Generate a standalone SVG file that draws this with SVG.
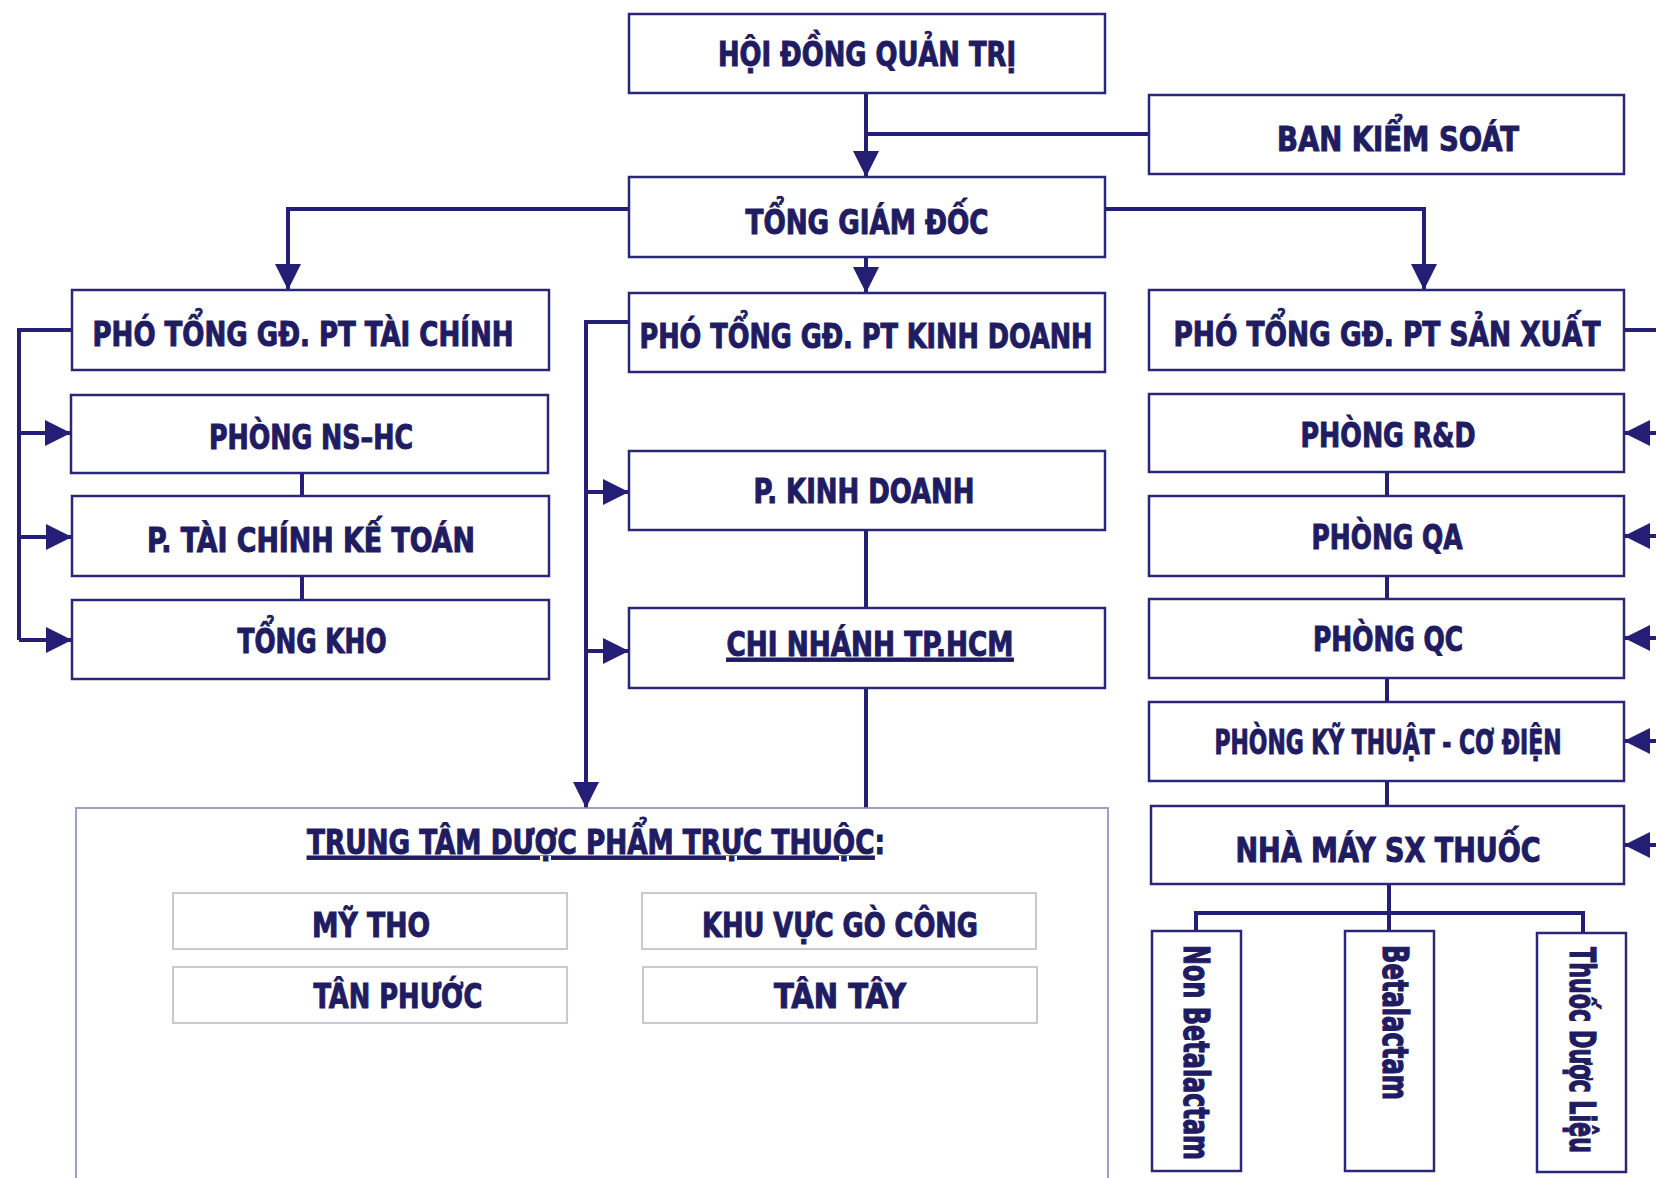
<svg xmlns="http://www.w3.org/2000/svg" width="1656" height="1178" viewBox="0 0 1656 1178">
<defs>
<marker id="arr" viewBox="0 0 10 10" refX="10" refY="5" markerUnits="userSpaceOnUse" markerWidth="32" markerHeight="26" orient="auto">
<path d="M0,0 L10,5 L0,10 z" fill="#241f74"/>
</marker>
<style>
.box{fill:#ffffff;stroke:#2a2678;stroke-width:2.5}
.sub{fill:#ffffff;stroke:#c9c9d3;stroke-width:2}
.big{fill:#ffffff;stroke:#8a88b8;stroke-width:1.6}
.t{font-family:"Liberation Sans Narrow","DejaVu Sans Condensed","Liberation Sans",sans-serif;font-weight:bold;fill:#1f1c62;stroke:#1f1c62;stroke-width:1;font-size:34px;text-anchor:middle}
.v{font-family:"Liberation Sans Narrow","DejaVu Sans Condensed","Liberation Sans",sans-serif;font-weight:bold;fill:#1f1c62;stroke:#1f1c62;stroke-width:1.2;font-size:36px}
.c{fill:none;stroke:#241f74;stroke-width:4}
.ca{fill:none;stroke:#241f74;stroke-width:4;marker-end:url(#arr)}
</style>
</defs>
<rect width="1656" height="1178" fill="#ffffff"/>

<g id="connectors">
<path class="ca" d="M866,93 V177"/>
<path class="c" d="M866,134 H1149"/>
<path class="ca" d="M629,209 H288 V290"/>
<path class="ca" d="M1105,209 H1424 V290"/>
<path class="ca" d="M866,257 V293"/>
<path class="c" d="M72,330 H19 V640"/>
<path class="ca" d="M19,433 H71"/>
<path class="ca" d="M19,537 H72"/>
<path class="ca" d="M19,640 H72"/>
<path class="c" d="M302,473 V496"/>
<path class="c" d="M302,576 V600"/>
<path class="ca" d="M629,322 H586 V808"/>
<path class="ca" d="M586,492 H629"/>
<path class="ca" d="M586,651 H629"/>
<path class="c" d="M866,530 V608"/>
<path class="c" d="M866,688 V808"/>
<path class="c" d="M1624,330 H1666 V845"/>
<path class="ca" d="M1666,433 H1624"/>
<path class="ca" d="M1666,536 H1624"/>
<path class="ca" d="M1666,638 H1624"/>
<path class="ca" d="M1666,741 H1624"/>
<path class="ca" d="M1666,845 H1624"/>
<path class="c" d="M1387,472 V496"/>
<path class="c" d="M1387,576 V599"/>
<path class="c" d="M1387,678 V702"/>
<path class="c" d="M1387,781 V806"/>
<path class="c" d="M1389,884 V931"/>
<path class="c" d="M1196,931 V913 H1583 V933"/>
</g>

<g id="hdqt"><rect class="box" x="629" y="14" width="476" height="79"/><text class="t" x="867" y="66" textLength="298" lengthAdjust="spacingAndGlyphs">HỘI ĐỒNG QUẢN TRỊ</text></g>
<g id="bks"><rect class="box" x="1149" y="95" width="475" height="79"/><text class="t" x="1398" y="151" textLength="242" lengthAdjust="spacingAndGlyphs">BAN KIỂM SOÁT</text></g>
<g id="tgd"><rect class="box" x="629" y="177" width="476" height="80"/><text class="t" x="867" y="234" textLength="243" lengthAdjust="spacingAndGlyphs">TỔNG GIÁM ĐỐC</text></g>
<g id="ptgd-tc"><rect class="box" x="72" y="290" width="477" height="80"/><text class="t" x="303" y="346" textLength="421" lengthAdjust="spacingAndGlyphs">PHÓ TỔNG GĐ. PT TÀI CHÍNH</text></g>
<g id="ptgd-kd"><rect class="box" x="629" y="293" width="476" height="79"/><text class="t" x="866" y="348" textLength="453" lengthAdjust="spacingAndGlyphs">PHÓ TỔNG GĐ. PT KINH DOANH</text></g>
<g id="ptgd-sx"><rect class="box" x="1149" y="290" width="475" height="80"/><text class="t" x="1387" y="346" textLength="427" lengthAdjust="spacingAndGlyphs">PHÓ TỔNG GĐ. PT SẢN XUẤT</text></g>
<g id="ns-hc"><rect class="box" x="71" y="395" width="477" height="78"/><text class="t" x="311" y="449" textLength="204" lengthAdjust="spacingAndGlyphs">PHÒNG NS–HC</text></g>
<g id="tckt"><rect class="box" x="72" y="496" width="477" height="80"/><text class="t" x="311" y="552" textLength="328" lengthAdjust="spacingAndGlyphs">P. TÀI CHÍNH KẾ TOÁN</text></g>
<g id="tong-kho"><rect class="box" x="72" y="600" width="477" height="79"/><text class="t" x="312" y="653" textLength="149" lengthAdjust="spacingAndGlyphs">TỔNG KHO</text></g>
<g id="p-kd"><rect class="box" x="629" y="451" width="476" height="79"/><text class="t" x="864" y="503" textLength="221" lengthAdjust="spacingAndGlyphs">P. KINH DOANH</text></g>
<g id="chi-nhanh"><rect class="box" x="629" y="608" width="476" height="80"/><text class="t" x="870" y="656" textLength="287" lengthAdjust="spacingAndGlyphs" text-decoration="underline">CHI NHÁNH TP.HCM</text></g>
<g id="rd"><rect class="box" x="1149" y="394" width="475" height="78"/><text class="t" x="1388" y="447" textLength="175" lengthAdjust="spacingAndGlyphs">PHÒNG R&amp;D</text></g>
<g id="qa"><rect class="box" x="1149" y="496" width="475" height="80"/><text class="t" x="1387" y="549" textLength="151" lengthAdjust="spacingAndGlyphs">PHÒNG QA</text></g>
<g id="qc"><rect class="box" x="1149" y="599" width="475" height="79"/><text class="t" x="1388" y="651" textLength="150" lengthAdjust="spacingAndGlyphs">PHÒNG QC</text></g>
<g id="ky-thuat"><rect class="box" x="1149" y="702" width="475" height="79"/><text class="t" x="1388" y="754" textLength="347" lengthAdjust="spacingAndGlyphs">PHÒNG KỸ THUẬT - CƠ ĐIỆN</text></g>
<g id="nha-may"><rect class="box" x="1151" y="806" width="473" height="78"/><text class="t" x="1388" y="862" textLength="305" lengthAdjust="spacingAndGlyphs">NHÀ MÁY SX THUỐC</text></g>

<g id="trung-tam">
<rect class="big" x="76" y="808" width="1032" height="390"/>
<text class="t" x="596" y="854" textLength="578" lengthAdjust="spacingAndGlyphs"><tspan text-decoration="underline">TRUNG TÂM DƯỢC PHẨM TRỰC THUỘC</tspan>:</text>
</g>
<g id="my-tho"><rect class="sub" x="173" y="893" width="394" height="56"/><text class="t" x="371" y="937" textLength="118" lengthAdjust="spacingAndGlyphs">MỸ THO</text></g>
<g id="go-cong"><rect class="sub" x="642" y="893" width="394" height="56"/><text class="t" x="840" y="937" textLength="276" lengthAdjust="spacingAndGlyphs">KHU VỰC GÒ CÔNG</text></g>
<g id="tan-phuoc"><rect class="sub" x="173" y="967" width="394" height="56"/><text class="t" x="398" y="1008" textLength="169" lengthAdjust="spacingAndGlyphs">TÂN PHƯỚC</text></g>
<g id="tan-tay"><rect class="sub" x="643" y="967" width="394" height="56"/><text class="t" x="840" y="1008" textLength="132" lengthAdjust="spacingAndGlyphs">TÂN TÂY</text></g>

<g id="non-betalactam"><rect class="box" x="1152" y="931" width="89" height="240"/><text class="v" transform="translate(1184,945) rotate(90)" textLength="215" lengthAdjust="spacingAndGlyphs">Non Betalactam</text></g>
<g id="betalactam"><rect class="box" x="1345" y="931" width="89" height="240"/><text class="v" transform="translate(1383,945) rotate(90)" textLength="155" lengthAdjust="spacingAndGlyphs">Betalactam</text></g>
<g id="thuoc-duoc-lieu"><rect class="box" x="1537" y="933" width="89" height="239"/><text class="v" transform="translate(1570,947) rotate(90)" textLength="206" lengthAdjust="spacingAndGlyphs">Thuốc Dược Liệu</text></g>
</svg>
